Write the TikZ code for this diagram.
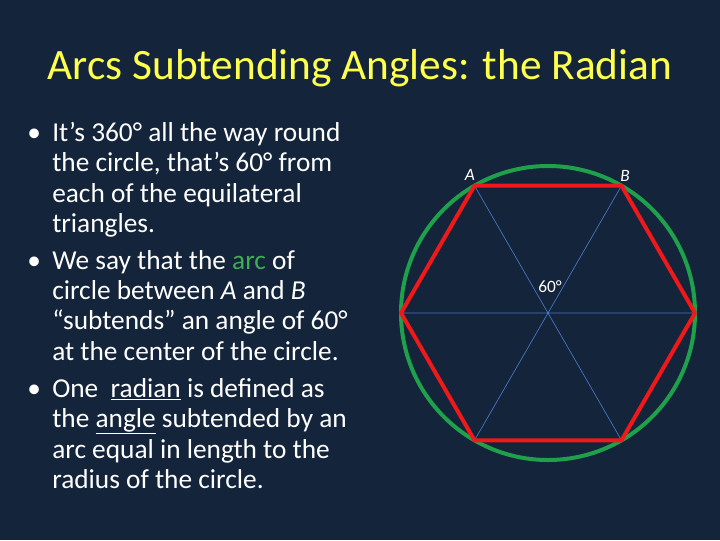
\documentclass[tikz,border=0pt]{standalone}
\usepackage{fontspec}
\usetikzlibrary{calc}
\setmainfont{Carlito}
\definecolor{bg}{HTML}{13243B}
\definecolor{ttl}{HTML}{FFFF4D}
\definecolor{arcg}{HTML}{3DAE52}
\definecolor{hexr}{HTML}{F01818}
\definecolor{circg}{HTML}{1FA04A}
\definecolor{spoke}{HTML}{4A78C8}
\begin{document}
\begin{tikzpicture}[x=0.75pt,y=-0.75pt,
  txt/.style={anchor=base west,text=white,font=\fontsize{20.5}{22}\selectfont,inner sep=0pt},
  bul/.style={anchor=base west,text=white,font=\fontsize{20.5}{22}\selectfont,inner sep=0pt},
  lbl/.style={text=white,font=\fontsize{13}{15}\selectfont,inner sep=0pt}]
\fill[bg] (0,0) rectangle (720,540);
\node[text=ttl,font=\fontsize{32.5}{36}\selectfont,inner sep=0pt] (title) at (360,68) {Arcs Subtending Angles: the Radian};
% bullets
\node[bul] (b1) at (27,141) {•};
\node[bul] (b2) at (27,269) {•};
\node[bul] (b3) at (27,397) {•};
\node[txt] (l1) at (52,141) {It’s 360° all the way round};
\node[txt] (l2) at (52,171) {the circle, that’s 60° from};
\node[txt] (l3) at (52,202) {each of the equilateral};
\node[txt] (l4) at (52,232) {triangles.};
\node[txt] (l5) at (52,269) {We say that the \textcolor{arcg}{arc} of};
\node[txt] (l6) at (52,299) {circle between \textit{A} and \textit{B}};
\node[txt] (l7) at (52,329) {“subtends” an angle of 60°};
\node[txt] (l8) at (52,360) {at the center of the circle.};
\node[txt] (l9) at (52,397) {One \ \underline{radian} is defined as};
\node[txt] (l10) at (52,427) {the \underline{angle} subtended by an};
\node[txt] (l11) at (52,458) {arc equal in length to the};
\node[txt] (l12) at (52,488) {radius of the circle.};
% diagram
\coordinate (O) at (548,313);
\foreach \i/\a in {1/0,2/60,3/120,4/180,5/240,6/300}
  \coordinate (v\i) at ($(O)+(\a:147)$);
\draw[spoke,line width=0.5pt] (v1)--(v4) (v2)--(v5) (v3)--(v6);
\draw[circg,line width=3pt] (O) circle[radius=147];
\draw[hexr,line width=3pt,line join=round] (v1)--(v2)--(v3)--(v4)--(v5)--(v6)--cycle;
\node[lbl] (A) at (470,175) {\textit{A}};
\node[lbl] (B) at (625,176) {\textit{B}};
\node[lbl] (ang) at (550,287) {60°};
\end{tikzpicture}
\end{document}
